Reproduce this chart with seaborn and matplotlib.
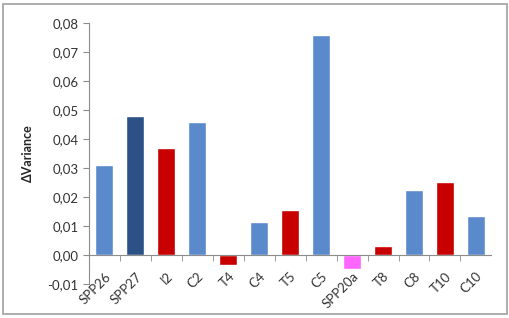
import numpy as np
import pandas as pd
import matplotlib.pyplot as plt
import seaborn as sns
from matplotlib.patches import Rectangle
from matplotlib.ticker import FuncFormatter, FixedLocator

# bar data
labels = ['SPP26', 'SPP27', 'I2', 'C2', 'T4', 'C4', 'T5', 'C5', 'SPP20a', 'T8', 'C8', 'T10', 'C10']
delta_var = [0.031, 0.048, 0.037, 0.046, -0.0034, 0.0113, 0.0154, 0.0758, -0.0048, 0.0030, 0.0223, 0.0251, 0.0133]
bar_colors = ['#5A8ACB', '#2B5186', '#C80000', '#5A8ACB', '#C80000', '#5A8ACB', '#C80000',
              '#5A8ACB', '#FF66FF', '#C80000', '#5A8ACB', '#C80000', '#5A8ACB']

df = pd.DataFrame({'label': labels, 'value': delta_var})

sns.set_style('white')
plt.rcParams['font.family'] = ['Lato', 'DejaVu Sans']

fig = plt.figure(figsize=(5.10, 3.18), dpi=100)
ax = fig.add_axes([0.1745, 0.107, 0.789, 0.821])

sns.barplot(data=df, x='label', y='value', hue='label', palette=bar_colors,
            legend=False, width=0.58, saturation=1, ax=ax)

ax.set_ylim(-0.01, 0.08)
ax.set_xlim(-0.5, len(labels) - 0.5)
ax.set_yticks(np.arange(-0.01, 0.0801, 0.01))
ax.yaxis.set_major_formatter(FuncFormatter(lambda v, p: f'{v:.2f}'.replace('.', ',')))

# x axis drawn at zero, tick marks between categories
ax.spines['bottom'].set_position(('data', 0))
for s in ['top', 'right']:
    ax.spines[s].set_visible(False)
for s in ['left', 'bottom']:
    ax.spines[s].set_color('#8C8C8C')
    ax.spines[s].set_linewidth(0.8)
ax.xaxis.set_minor_locator(FixedLocator(np.arange(0.5, len(labels) - 0.5, 1)))
ax.tick_params(axis='x', which='major', length=0, pad=11, labelsize=9.5, colors='#333333')
ax.tick_params(axis='x', which='minor', length=4, direction='out', color='#8C8C8C', bottom=True)
ax.tick_params(axis='y', length=4, direction='out', color='#8C8C8C', labelsize=9.5,
               labelcolor='#333333', left=True)
plt.setp(ax.get_xticklabels(), rotation=45, ha='right', rotation_mode='anchor')

ax.set_xlabel('')
ax.set_ylabel('ΔVariance', fontsize=9, fontweight='bold', labelpad=10)

fig.patches.append(Rectangle((0.006, 0.012), 0.988, 0.975, transform=fig.transFigure,
                             fill=False, edgecolor='#A0A0A0', linewidth=1.2))

fig.savefig('out.png', dpi=100)
